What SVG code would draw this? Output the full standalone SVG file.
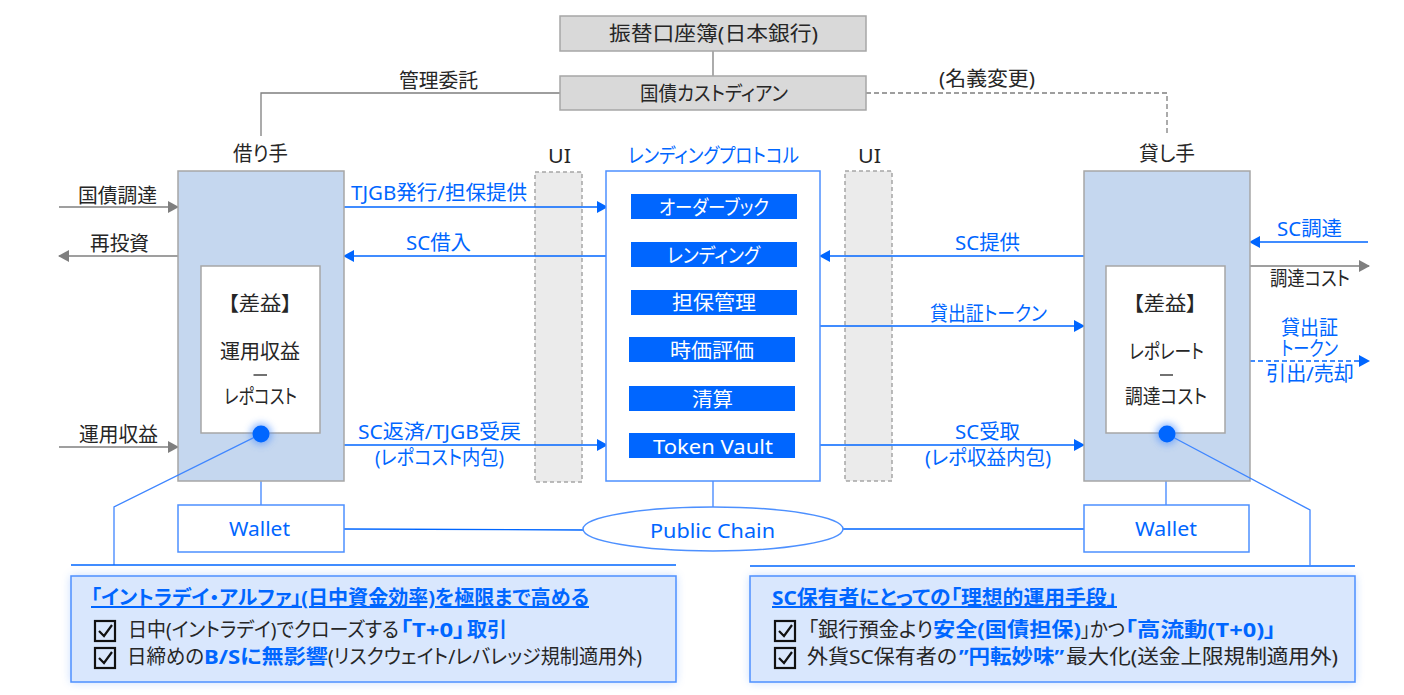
<svg xmlns="http://www.w3.org/2000/svg" width="1404" height="695" viewBox="0 0 1404 695">
<style>
text{font-family:"Noto Sans","Noto Sans CJK JP",sans-serif;font-size:20px;fill:#262626;font-feature-settings:"palt"}
.b{fill:#0066ff}.w{fill:#fff}
.h{font-weight:700;fill:#0066ff}
.gb{fill:#d9d9d9;stroke:#a6a6a6;stroke-width:1.5}
.party{fill:#c5d7ef;stroke:#a6a6a6;stroke-width:1.5}
.inner{fill:#fff;stroke:#a6a6a6;stroke-width:1.5}
.ui{fill:#ebebeb;stroke:#a6a6a6;stroke-width:1.5;stroke-dasharray:4 3}
.bx{fill:#fff;stroke:#4d90ff;stroke-width:1.5}
.bar{fill:#0066ff}
.panel{fill:#d9e7fd;stroke:#4d90ff;stroke-width:1.5}
.cl{fill:none;stroke-width:1.3}
.g{stroke:#7f7f7f}.u{stroke:#0066ff}.l{stroke:#3f86ff}
.a{fill:none;stroke-width:1.3}
.ck{fill:none;stroke:#111;stroke-width:2.2}
</style>
<defs>
<marker id="ag" markerUnits="userSpaceOnUse" markerWidth="11" markerHeight="12" refX="10" refY="6" orient="auto"><path d="M0 0L11 6L0 12z" fill="#7f7f7f"/></marker>
<marker id="ab" markerUnits="userSpaceOnUse" markerWidth="11" markerHeight="12" refX="10" refY="6" orient="auto"><path d="M0 0L11 6L0 12z" fill="#0066ff"/></marker>
<filter id="glow" x="-20%" y="-30%" width="140%" height="160%"><feGaussianBlur stdDeviation="5"/></filter>
<filter id="dg" x="-100%" y="-100%" width="300%" height="300%"><feGaussianBlur stdDeviation="3.5"/></filter>
</defs>

<g id="node-ui-left"><text x="548" y="163" textLength="23" lengthAdjust="spacingAndGlyphs">UI</text><rect class="ui" x="535" y="172" width="47" height="310"/></g>
<g id="node-ui-right"><text x="858" y="163" textLength="23" lengthAdjust="spacingAndGlyphs">UI</text><rect class="ui" x="845" y="171" width="47" height="310"/></g>

<g id="connectors">
<path class="cl g" d="M713 51V76"/>
<path class="cl g" d="M560 93H261V136"/>
<path class="cl g" d="M866 93H1167V133" stroke-dasharray="5 3"/>
<path class="a g" d="M59 207H178" marker-end="url(#ag)"/>
<path class="a g" d="M178 256H59" marker-end="url(#ag)"/>
<path class="a g" d="M59 447H178" marker-end="url(#ag)"/>
<path class="a g" d="M1250 266H1369" marker-end="url(#ag)"/>
<path class="a u" d="M344 207H607" marker-end="url(#ab)"/>
<path class="a u" d="M607 256H344" marker-end="url(#ab)"/>
<path class="a u" d="M344 445H607" marker-end="url(#ab)"/>
<path class="a u" d="M1084 256H820" marker-end="url(#ab)"/>
<path class="a u" d="M820 326H1084" marker-end="url(#ab)"/>
<path class="a u" d="M820 445H1084" marker-end="url(#ab)"/>
<path class="a u" d="M1368 242H1250" marker-end="url(#ab)"/>
<path class="a u" d="M1250 361H1369" marker-end="url(#ab)" stroke-dasharray="5 3"/>
<path class="a l" d="M261 481V505M1166 481V505M713 481V507"/>
<path class="a u" d="M344 529L583 530M843 529H1084"/>
</g>

<g id="node-jgb"><rect class="gb" x="560" y="16" width="306" height="35"/><text x="609" y="41" textLength="209" lengthAdjust="spacingAndGlyphs">振替口座簿(日本銀行)</text></g>
<g id="node-custodian"><rect class="gb" x="560" y="76" width="306" height="34"/><text x="640" y="101" textLength="148" lengthAdjust="spacingAndGlyphs">国債カストディアン</text></g>
<g id="label-top"><text x="399" y="88" textLength="79" lengthAdjust="spacingAndGlyphs">管理委託</text><text x="939" y="86" textLength="96" lengthAdjust="spacingAndGlyphs">(名義変更)</text></g>

<g id="node-borrower">
<text x="233" y="161" textLength="55" lengthAdjust="spacingAndGlyphs">借り手</text>
<rect class="party" x="178" y="171" width="166" height="310"/>
<rect class="inner" x="201" y="266" width="119" height="167"/>
<text x="228" y="311" textLength="64" lengthAdjust="spacingAndGlyphs">【差益】</text>
<text x="220" y="359" textLength="80" lengthAdjust="spacingAndGlyphs">運用収益</text>
<path d="M253.500 375H267" stroke="#262626" stroke-width="1.300"/>
<text x="224" y="404" textLength="73" lengthAdjust="spacingAndGlyphs">レポコスト</text>
</g>
<g id="node-lender">
<text x="1139" y="161" textLength="56" lengthAdjust="spacingAndGlyphs">貸し手</text>
<rect class="party" x="1084" y="171" width="166" height="310"/>
<rect class="inner" x="1106" y="266" width="119" height="167"/>
<text x="1133" y="311" textLength="64" lengthAdjust="spacingAndGlyphs">【差益】</text>
<text x="1129" y="359" textLength="75" lengthAdjust="spacingAndGlyphs">レポレート</text>
<path d="M1160 375H1173" stroke="#262626" stroke-width="1.300"/>
<text x="1125" y="404" textLength="82" lengthAdjust="spacingAndGlyphs">調達コスト</text>
</g>
<g id="node-protocol">
<text class="b" x="628" y="163" textLength="171" lengthAdjust="spacingAndGlyphs">レンディングプロトコル</text>
<rect class="bx" x="606" y="171" width="214" height="310"/>
<rect class="bar" x="631" y="194" width="166" height="25"/><text class="w" x="659" y="215" textLength="110" lengthAdjust="spacingAndGlyphs">オーダーブック</text>
<rect class="bar" x="631" y="242" width="166" height="25"/><text class="w" x="667" y="263" textLength="93" lengthAdjust="spacingAndGlyphs">レンディング</text>
<rect class="bar" x="631" y="290" width="166" height="25"/><text class="w" x="672" y="310" textLength="84" lengthAdjust="spacingAndGlyphs">担保管理</text>
<rect class="bar" x="629" y="337" width="166" height="25"/><text class="w" x="670" y="358" textLength="84" lengthAdjust="spacingAndGlyphs">時価評価</text>
<rect class="bar" x="629" y="386" width="166" height="25"/><text class="w" x="692" y="407" textLength="41" lengthAdjust="spacingAndGlyphs">清算</text>
<rect class="bar" x="629" y="433" width="166" height="25"/><text class="w" x="653" y="454" textLength="120" lengthAdjust="spacingAndGlyphs">Token Vault</text>
</g>
<g id="node-wallet-left"><rect class="bx" x="178" y="505" width="166" height="47"/><text class="b" x="229" y="536" textLength="61" lengthAdjust="spacingAndGlyphs">Wallet</text></g>
<g id="node-wallet-right"><rect class="bx" x="1084" y="505" width="165" height="47"/><text class="b" x="1135" y="536" textLength="62" lengthAdjust="spacingAndGlyphs">Wallet</text></g>
<g id="node-chain"><ellipse class="bx" cx="713" cy="529" rx="130" ry="22"/><text class="b" x="650" y="538" textLength="125" lengthAdjust="spacingAndGlyphs">Public Chain</text></g>

<g id="labels-flow">
<text x="78" y="203" textLength="79" lengthAdjust="spacingAndGlyphs">国債調達</text>
<text x="90" y="251" textLength="59" lengthAdjust="spacingAndGlyphs">再投資</text>
<text x="79" y="442" textLength="79" lengthAdjust="spacingAndGlyphs">運用収益</text>
<text class="b" x="351" y="200" textLength="176" lengthAdjust="spacingAndGlyphs">TJGB発行/担保提供</text>
<text class="b" x="406" y="250" textLength="65" lengthAdjust="spacingAndGlyphs">SC借入</text>
<text class="b" x="358" y="439" textLength="163" lengthAdjust="spacingAndGlyphs">SC返済/TJGB受戻</text>
<text class="b" x="375" y="465" textLength="129" lengthAdjust="spacingAndGlyphs">(レポコスト内包)</text>
<text class="b" x="955" y="250" textLength="65" lengthAdjust="spacingAndGlyphs">SC提供</text>
<text class="b" x="930" y="321" textLength="117" lengthAdjust="spacingAndGlyphs">貸出証トークン</text>
<text class="b" x="955" y="439" textLength="65" lengthAdjust="spacingAndGlyphs">SC受取</text>
<text class="b" x="925" y="465" textLength="126" lengthAdjust="spacingAndGlyphs">(レポ収益内包)</text>
<text class="b" x="1277" y="236" textLength="65" lengthAdjust="spacingAndGlyphs">SC調達</text>
<text x="1270" y="286" textLength="80" lengthAdjust="spacingAndGlyphs">調達コスト</text>
<text class="b" x="1281" y="335" textLength="57" lengthAdjust="spacingAndGlyphs">貸出証</text>
<text class="b" x="1281" y="356" textLength="57" lengthAdjust="spacingAndGlyphs">トークン</text>
<text class="b" x="1266" y="381" textLength="88" lengthAdjust="spacingAndGlyphs">引出/売却</text>
</g>

<g id="callout-left">
<rect x="71" y="576" width="605" height="106" fill="#4d90ff" opacity=".35" filter="url(#glow)"/>
<path class="cl l" d="M261 434L114 507V565"/>
<path class="cl u" d="M71 565H676"/>
<circle cx="261" cy="434" r="11" fill="#4d90ff" opacity=".6" filter="url(#dg)"/>
<circle cx="261" cy="434" r="8.500" fill="#0066ff"/>
<rect class="panel" x="71" y="576" width="605" height="106"/>
<text class="h" x="91" y="605" text-decoration="underline" textLength="498" lengthAdjust="spacingAndGlyphs">「イントラデイ・アルファ」(日中資金効率)を極限まで高める</text>
<rect class="ck" x="95" y="621" width="20" height="20"/><path class="ck" d="M99 631l5 5 8-11"/>
<rect class="ck" x="95" y="648" width="20" height="20"/><path class="ck" d="M99 658l5 5 8-11"/>
<text y="637"><tspan x="128" textLength="271" lengthAdjust="spacingAndGlyphs">日中(イントラデイ)でクローズする</tspan><tspan class="h" x="400" textLength="65" lengthAdjust="spacingAndGlyphs">「T+0」</tspan><tspan class="h" x="467" textLength="40" lengthAdjust="spacingAndGlyphs">取引</tspan></text>
<text y="664"><tspan x="127" textLength="77" lengthAdjust="spacingAndGlyphs">日締めの</tspan><tspan class="h" x="204" textLength="124" lengthAdjust="spacingAndGlyphs">B/Sに無影響</tspan><tspan x="328" textLength="314" lengthAdjust="spacingAndGlyphs">(リスクウェイト/レバレッジ規制適用外)</tspan></text>
</g>
<g id="callout-right">
<rect x="750" y="576" width="605" height="106" fill="#4d90ff" opacity=".35" filter="url(#glow)"/>
<path class="cl l" d="M1167 434L1310 510V565"/>
<path class="cl u" d="M750 566H1355"/>
<circle cx="1167" cy="434" r="11" fill="#4d90ff" opacity=".6" filter="url(#dg)"/>
<circle cx="1167" cy="434" r="8.500" fill="#0066ff"/>
<rect class="panel" x="750" y="576" width="605" height="106"/>
<text class="h" x="772" y="605" text-decoration="underline" textLength="345" lengthAdjust="spacingAndGlyphs">SC保有者にとっての「理想的運用手段」</text>
<rect class="ck" x="775" y="621" width="20" height="20"/><path class="ck" d="M779 631l5 5 8-11"/>
<rect class="ck" x="775" y="648" width="20" height="20"/><path class="ck" d="M779 658l5 5 8-11"/>
<text y="637"><tspan x="808" textLength="125" lengthAdjust="spacingAndGlyphs">「銀行預金より</tspan><tspan class="h" x="933" textLength="148" lengthAdjust="spacingAndGlyphs">安全(国債担保)</tspan><tspan x="1081" textLength="44" lengthAdjust="spacingAndGlyphs">」かつ</tspan><tspan class="h" x="1125" textLength="151" lengthAdjust="spacingAndGlyphs">「高流動(T+0)」</tspan></text>
<text y="664"><tspan x="807" textLength="150" lengthAdjust="spacingAndGlyphs">外貨SC保有者の</tspan><tspan class="h" x="959" textLength="105" lengthAdjust="spacingAndGlyphs">”円転妙味”</tspan><tspan x="1066" textLength="272" lengthAdjust="spacingAndGlyphs">最大化(送金上限規制適用外)</tspan></text>
</g>
</svg>
